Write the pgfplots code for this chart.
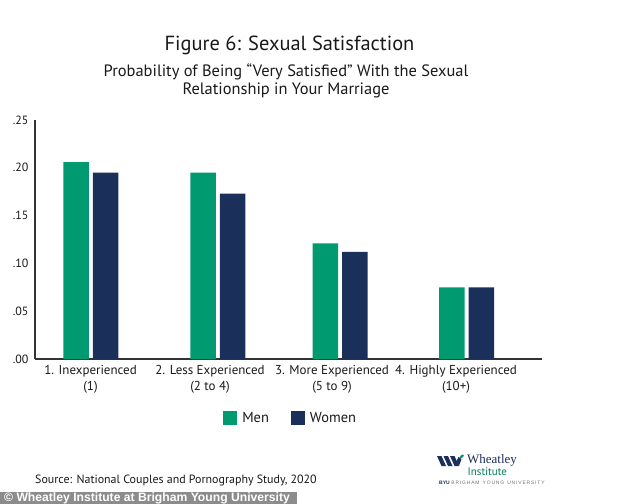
\documentclass[border=0pt]{standalone}
\usepackage{fontspec}
\setmainfont{PT Sans}
\newfontfamily\wmfont{Liberation Sans}
\newfontfamily\logoserif{Liberation Serif}
\usepackage{pgfplots}
\pgfplotsset{compat=1.18}
\definecolor{mengreen}{HTML}{009A71}
\definecolor{womennavy}{HTML}{1B2F5B}
\definecolor{axisgray}{HTML}{333333}
\begin{document}
\begin{tikzpicture}[x=1bp,y=1bp]
\path[use as bounding box] (0,0) rectangle (634,-504);
% titles
\node[font=\fontsize{20.5}{24}\selectfont, text=black!90] at (289.5,-45) {Figure 6: Sexual Satisfaction};
\node[font=\fontsize{16.5}{18}\selectfont, align=center, text=black!90] at (286,-81) {Probability of Being ``Very Satisfied'' With the Sexual\\Relationship in Your Marriage};
\begin{axis}[
  scale only axis,
  width=507bp, height=239bp,
  at={(35bp,-359bp)}, anchor=south west,
  xmin=35, xmax=542, ymin=0, ymax=0.25,
  axis x line*=bottom, axis y line*=left,
  axis line style={-, line width=1.6bp, color=axisgray},
  major tick length=0pt,
  xtick={90.5,210,332,456},
  xticklabels={{1. Inexperienced\\(1)},{2. Less Experienced\\(2 to 4)},{3. More Experienced\\(5 to 9)},{4. Highly Experienced\\(10+)}},
  xticklabel style={align=center, font=\fontsize{13}{15.5}\selectfont, text=black!90, yshift=-3bp},
  ytick={0,0.05,0.10,0.15,0.20,0.25},
  yticklabels={.00,.05,.10,.15,.20,.25},
  yticklabel style={font=\fontsize{12}{13}\selectfont, text=black!90, xshift=-3bp},
  ybar, bar width=25.5bp,
  legend columns=2,
  legend style={at={(0.371,-0.247)}, anchor=west, draw=none, fill=none, inner sep=0pt,
    font=\fontsize{14.5}{16}\selectfont, text=black!90,
    /tikz/every odd column/.append style={column sep=3bp},
    /tikz/every even column/.append style={column sep=20bp}},
  legend image code/.code={\fill[#1] (0bp,-7bp) rectangle (14bp,7bp);},
]
\addplot[fill=mengreen, draw=none, bar shift=-14.75bp] coordinates {(90.9,0.206) (217.9,0.195) (340,0.121) (466.5,0.075)};
\addlegendentry{Men}
\addplot[fill=womennavy, draw=none, bar shift=14.75bp] coordinates {(90.9,0.195) (217.9,0.173) (340,0.112) (466.5,0.075)};
\addlegendentry{Women}
\end{axis}
% source
\node[anchor=west, font=\fontsize{12}{13}\selectfont, text=black!90, inner sep=0pt] at (35,-481) {Source: National Couples and Pornography Study, 2020};
% watermark
\fill[black!45] (0,-492) rectangle (297,-504);
\node[anchor=west, inner sep=0pt, text=white, font=\wmfont\bfseries\fontsize{12.2}{13}\selectfont] at (4,-498.3) {\textcopyright{} Wheatley Institute at Brigham Young University};
% logo
\begin{scope}[womennavy]
\fill (437,-456) -- (441.5,-456) -- (446,-466) -- (441.5,-466) -- cycle;
\fill (443.5,-456) -- (448,-456) -- (452.5,-466) -- (448,-466) -- cycle;
\fill (450,-456) -- (454.5,-456) -- (459,-466) -- (454.5,-466) -- cycle;
\fill (459,-466) -- (456.5,-461) -- (458.5,-457) -- (461.5,-459) -- cycle;
\end{scope}
\fill[mengreen] (459.5,-458) .. controls (461,-454) and (463,-454) .. (464,-455) .. controls (463,-458) and (461,-459) .. (459.5,-458);
\node[anchor=west, inner sep=0pt, text=womennavy, font=\logoserif\fontsize{13}{14}\selectfont] at (467,-460.5) {Wheatley};
\node[anchor=west, inner sep=0pt, text=mengreen!80!black, font=\fontsize{11}{12}\selectfont] at (467.5,-471.5) {Institute};
\node[anchor=west, inner sep=0pt, font=\wmfont\fontsize{5}{6}\selectfont] at (439,-483) {\textcolor{womennavy}{\bfseries BYU}\,\,\textcolor{black!55}{B\,R\,I\,G\,H\,A\,M\, \,Y\,O\,U\,N\,G\, \,U\,N\,I\,V\,E\,R\,S\,I\,T\,Y}};
\end{tikzpicture}
\end{document}
